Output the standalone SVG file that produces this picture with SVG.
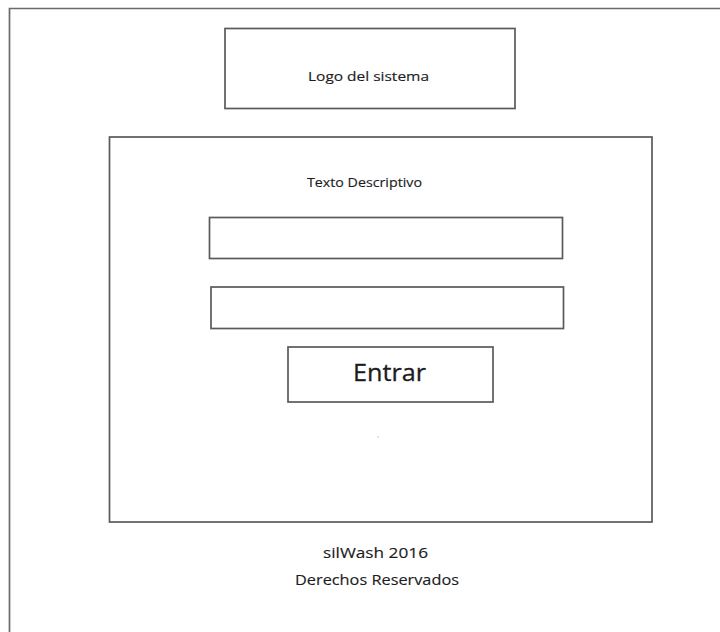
<svg xmlns="http://www.w3.org/2000/svg" width="720" height="632" viewBox="0 0 720 632">
  <style>
    .box { fill: #ffffff; stroke: #5a5a5a; stroke-width: 1.7; }
    .frame { fill: none; stroke: #6a6a6a; stroke-width: 1.7; }
    .lbl { font-family: "Open Sans", "Liberation Sans", sans-serif; fill: #1c1c1c; stroke: #1c1c1c; stroke-width: 0.15; text-anchor: middle; }
    .sm { font-size: 13px; }
    .md { font-size: 14px; }
    .lg { font-size: 24px; stroke-width: 0.3; }
  </style>
  <rect width="720" height="632" fill="#ffffff"/>

  <!-- page frame (continues past the right and bottom edges) -->
  <g id="page">
    <path class="frame" d="M9.5,640 V8.5 H730"/>
  </g>

  <g id="logo">
    <rect class="box" x="225" y="28.5" width="290" height="80"/>
    <text class="lbl sm" x="368.5" y="81" textLength="121" lengthAdjust="spacingAndGlyphs">Logo del sistema</text>
  </g>

  <g id="panel">
    <rect class="box" x="109.5" y="137" width="542.5" height="385"/>
    <text class="lbl sm" x="364.5" y="187" textLength="115" lengthAdjust="spacingAndGlyphs">Texto Descriptivo</text>
  </g>

  <g id="input-user">
    <rect class="box" x="209.5" y="217.5" width="353" height="41"/>
  </g>

  <g id="input-pass">
    <rect class="box" x="211" y="287" width="352.5" height="41.5"/>
  </g>

  <g id="btn-entrar">
    <rect class="box" x="288" y="347" width="205" height="55"/>
    <text class="lbl lg" x="389.5" y="381" textLength="73" lengthAdjust="spacingAndGlyphs">Entrar</text>
  </g>

  <circle cx="378" cy="437" r="0.8" fill="#d8b8c0"/>

  <g id="footer">
    <text class="lbl md" x="375.5" y="558" textLength="105" lengthAdjust="spacingAndGlyphs">silWash 2016</text>
    <text class="lbl md" x="377" y="585" textLength="164" lengthAdjust="spacingAndGlyphs">Derechos Reservados</text>
  </g>
</svg>
